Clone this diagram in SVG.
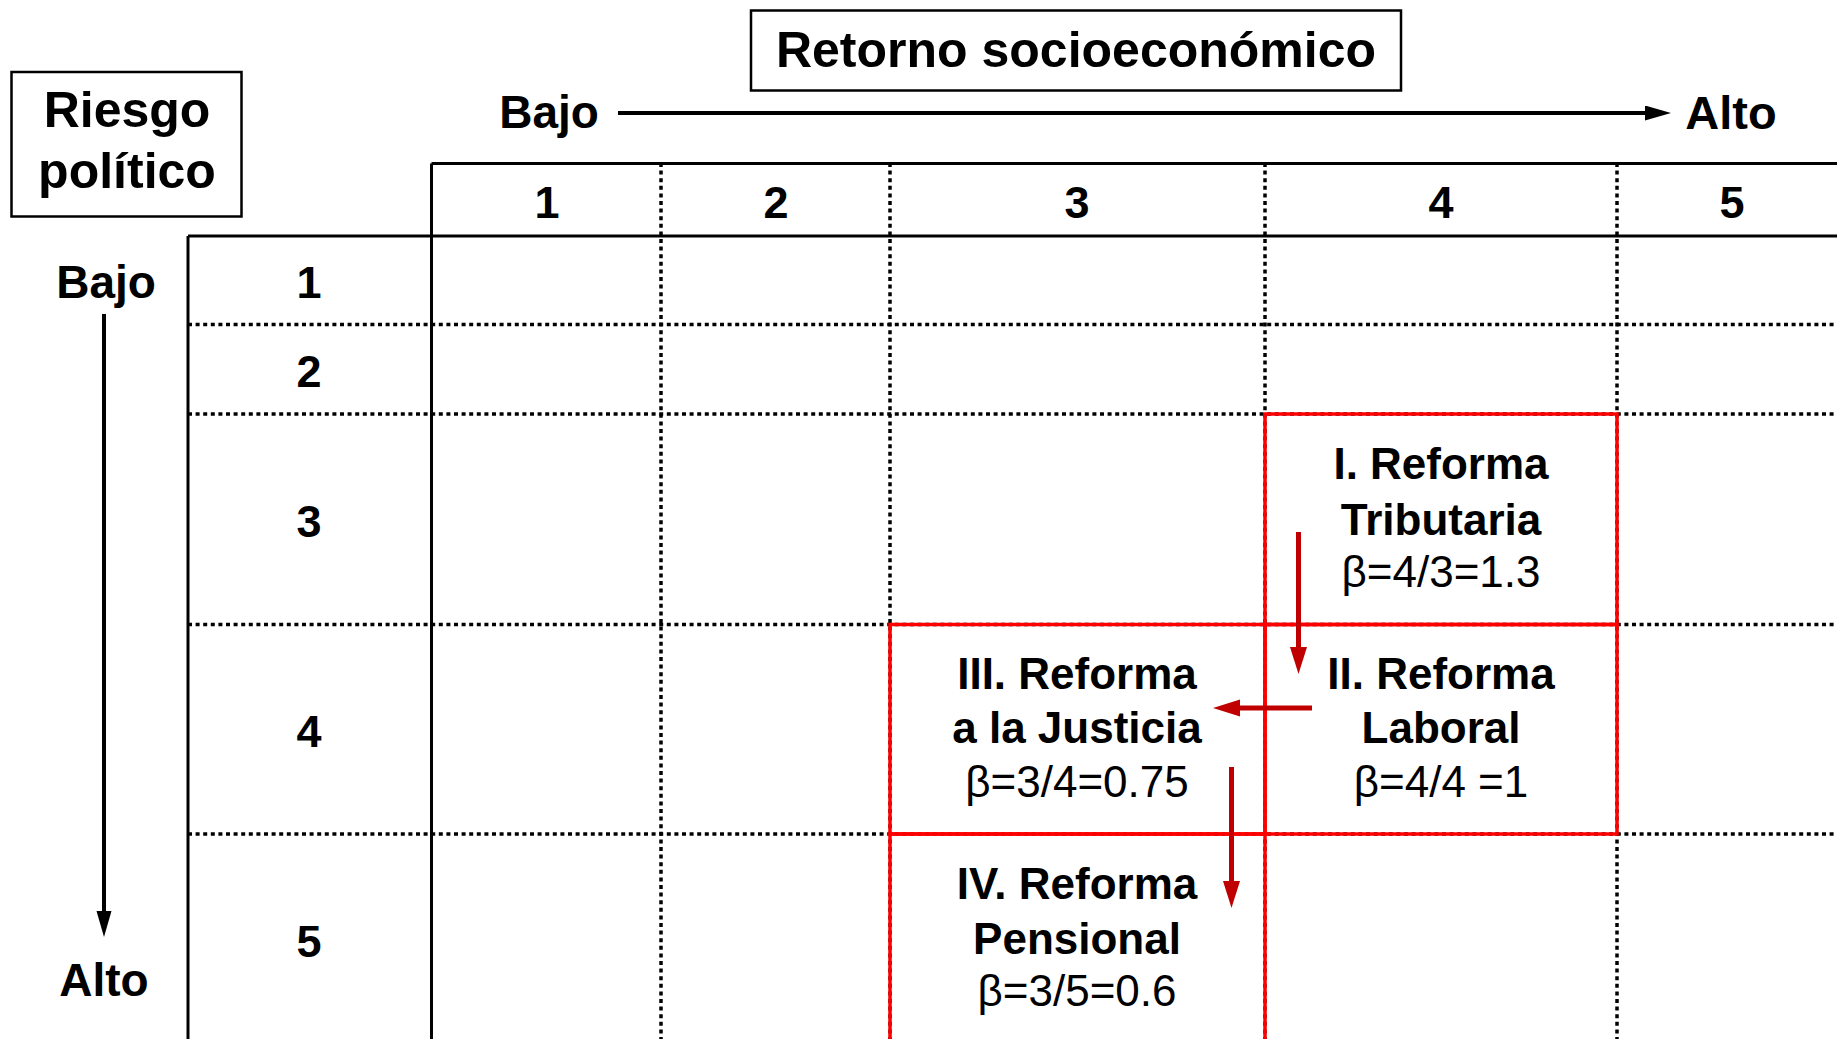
<svg xmlns="http://www.w3.org/2000/svg" width="1837" height="1039" viewBox="0 0 1837 1039">
<style>
.b{font-family:"Liberation Sans",Arial,sans-serif;font-weight:bold;fill:#000;text-anchor:middle}
.r{font-family:"Liberation Sans",Arial,sans-serif;font-weight:normal;fill:#000;text-anchor:middle}
.solid{stroke:#000;stroke-width:3;fill:none}
.dot{stroke:#000;stroke-width:3.5;stroke-dasharray:4 3.6;fill:none}
.box{stroke:#000;stroke-width:2.5;fill:#fff}
.red{stroke:#FF0000;stroke-width:3.5;fill:none}
.ax{stroke:#000;stroke-width:4;fill:none}
.ra{stroke:#C00000;stroke-width:5;fill:none}
</style>
<defs>
<marker id="hk" markerUnits="userSpaceOnUse" markerWidth="28" markerHeight="16" refX="0" refY="7.5" orient="auto">
<path d="M0,0 L26,7.5 L0,15 z" fill="#000"/>
</marker>
<marker id="hr" markerUnits="userSpaceOnUse" markerWidth="28" markerHeight="18" refX="0" refY="8.5" orient="auto">
<path d="M0,0 L27,8.5 L0,17 z" fill="#C00000"/>
</marker>
</defs>
<rect width="1837" height="1039" fill="#fff"/>

<g id="grid">
<line class="dot" x1="661" y1="163" x2="661" y2="1039"/>
<line class="dot" x1="890" y1="163" x2="890" y2="1039"/>
<line class="dot" x1="1265" y1="163" x2="1265" y2="1039"/>
<line class="dot" x1="1617" y1="163" x2="1617" y2="1039"/>
<line class="dot" x1="188" y1="324.5" x2="1837" y2="324.5"/>
<line class="dot" x1="188" y1="414" x2="1837" y2="414"/>
<line class="dot" x1="188" y1="624.5" x2="1837" y2="624.5"/>
<line class="dot" x1="188" y1="834" x2="1837" y2="834"/>
<line class="solid" x1="431.5" y1="163.5" x2="1837" y2="163.5"/>
<line class="solid" x1="188" y1="236" x2="1837" y2="236"/>
<line class="solid" x1="431.5" y1="163.5" x2="431.5" y2="1039"/>
<line class="solid" x1="188" y1="236" x2="188" y2="1039"/>
</g>

<g id="col-labels">
<text class="b" x="547" y="218" font-size="45">1</text>
<text class="b" x="776" y="218" font-size="45">2</text>
<text class="b" x="1077" y="218" font-size="45">3</text>
<text class="b" x="1441" y="218" font-size="45">4</text>
<text class="b" x="1732" y="218" font-size="45">5</text>
</g>
<g id="row-labels">
<text class="b" x="309" y="298" font-size="45">1</text>
<text class="b" x="309" y="387" font-size="45">2</text>
<text class="b" x="309" y="537" font-size="45">3</text>
<text class="b" x="309" y="747" font-size="45">4</text>
<text class="b" x="309" y="957" font-size="45">5</text>
</g>

<g id="title-retorno">
<rect class="box" x="751" y="10.5" width="650" height="80"/>
<text class="b" x="1076" y="67" font-size="50">Retorno socioeconómico</text>
</g>
<g id="title-riesgo">
<rect class="box" x="11.5" y="72" width="230" height="144.5"/>
<text class="b" x="127" y="127" font-size="50">Riesgo</text>
<text class="b" x="127" y="188" font-size="50">político</text>
</g>

<g id="axis-labels">
<text class="b" x="549" y="128" font-size="46">Bajo</text>
<text class="b" x="1731" y="129" font-size="47">Alto</text>
<text class="b" x="106" y="298" font-size="46">Bajo</text>
<text class="b" x="104" y="996" font-size="46">Alto</text>
</g>

<g id="node-I">
<rect class="red" x="1265" y="414" width="352" height="210.5"/>
<text class="b" x="1441" y="478.5" font-size="44">I. Reforma</text>
<text class="b" x="1441" y="535" font-size="44">Tributaria</text>
<text class="r" x="1441" y="587" font-size="44">β=4/3=1.3</text>
</g>
<g id="node-II">
<rect class="red" x="1265" y="624.5" width="352" height="209.5"/>
<text class="b" x="1441" y="689" font-size="44">II. Reforma</text>
<text class="b" x="1441" y="743" font-size="44">Laboral</text>
<text class="r" x="1441" y="797" font-size="44">β=4/4 =1</text>
</g>
<g id="node-III">
<rect class="red" x="890" y="624.5" width="375" height="209.5"/>
<text class="b" x="1077" y="689" font-size="44">III. Reforma</text>
<text class="b" x="1077" y="743" font-size="44">a la Justicia</text>
<text class="r" x="1077" y="797" font-size="44">β=3/4=0.75</text>
</g>
<g id="node-IV">
<rect class="red" x="890" y="834" width="375" height="215"/>
<text class="b" x="1077" y="899" font-size="44">IV. Reforma</text>
<text class="b" x="1077" y="953.5" font-size="44">Pensional</text>
<text class="r" x="1077" y="1006" font-size="44">β=3/5=0.6</text>
</g>

<g id="connectors">
<line class="ax" x1="618" y1="113" x2="1645" y2="113" marker-end="url(#hk)"/>
<line class="ax" x1="104" y1="314" x2="104" y2="911" marker-end="url(#hk)"/>
<line class="ra" x1="1298.5" y1="532" x2="1298.5" y2="647" marker-end="url(#hr)"/>
<line class="ra" x1="1312" y1="708" x2="1240" y2="708" marker-end="url(#hr)"/>
<line class="ra" x1="1231.5" y1="767" x2="1231.5" y2="881" marker-end="url(#hr)"/>
</g>
</svg>
